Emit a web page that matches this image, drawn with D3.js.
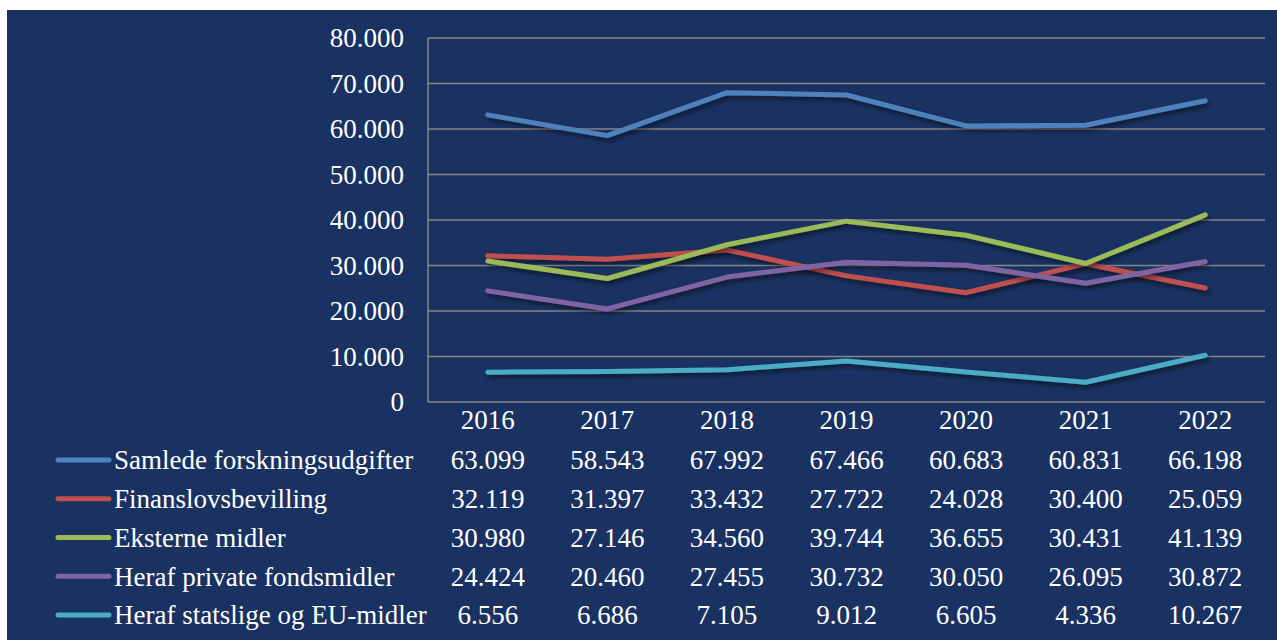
<!DOCTYPE html>
<html>
<head>
<meta charset="utf-8">
<script src="https://cdn.jsdelivr.net/npm/d3@7"></script>
<style>
  body { margin: 0; background: #fff; }
  text { font-family: "Liberation Serif", "Times New Roman", serif; fill: #fff; }
</style>
</head>
<body>
<svg id="chart" width="1277" height="642"></svg>
<script>
// data (thousands, Danish number format)
var years = ["2016", "2017", "2018", "2019", "2020", "2021", "2022"];
var seriesNames = ["Samlede forskningsudgifter", "Finanslovsbevilling", "Eksterne midler",
                   "Heraf private fondsmidler", "Heraf statslige og EU-midler"];
var samlede   = [63099, 58543, 67992, 67466, 60683, 60831, 66198];
var finanslov = [32119, 31397, 33432, 27722, 24028, 30400, 25059];
var eksterne  = [30980, 27146, 34560, 39744, 36655, 30431, 41139];
var private_  = [24424, 20460, 27455, 30732, 30050, 26095, 30872];
var statslige = [6556, 6686, 7105, 9012, 6605, 4336, 10267];
var yTicks = [0, 10000, 20000, 30000, 40000, 50000, 60000, 70000, 80000];
var colors = ["#4f81bd", "#c0504d", "#9bbb59", "#8064a2", "#4bacc6"];

var allSeries = [samlede, finanslov, eksterne, private_, statslige];

var dk = d3.formatLocale({decimal: ",", thousands: ".", grouping: [3], currency: ["", " kr."]});
var fmt = dk.format(",");
var fs = 27;

var svg = d3.select("#chart");

var defs = svg.append("defs");
var f = defs.append("filter").attr("id", "shadow")
    .attr("x", "-10%").attr("y", "-50%").attr("width", "120%").attr("height", "200%");
f.append("feDropShadow").attr("dx", 2).attr("dy", 3).attr("stdDeviation", 2.5)
    .attr("flood-color", "#000").attr("flood-opacity", 0.55);

// background
svg.append("rect").attr("x", 7).attr("y", 10).attr("width", 1270).attr("height", 630)
    .attr("fill", "#1a3262");

var margin = {left: 428, right: 1265, top: 38, bottom: 402};

var x = d3.scaleBand().domain(years).range([margin.left, margin.right]);
var y = d3.scaleLinear().domain([0, 80000]).range([margin.bottom, margin.top]);

// gridlines
svg.append("g").selectAll("line").data(yTicks).enter().append("line")
    .attr("x1", margin.left).attr("x2", margin.right)
    .attr("y1", function(d){ return y(d); }).attr("y2", function(d){ return y(d); })
    .attr("stroke", "#868686").attr("stroke-width", 1.5);
svg.append("line")
    .attr("x1", margin.left).attr("x2", margin.left)
    .attr("y1", margin.top).attr("y2", margin.bottom)
    .attr("stroke", "#868686").attr("stroke-width", 1.5);

// y axis labels
var yAxis = d3.axisLeft(y).tickValues(yTicks).tickFormat(fmt).tickSize(0).tickPadding(24);
var ya = svg.append("g").attr("transform", "translate(" + margin.left + ",0)").call(yAxis);
ya.select(".domain").remove();
ya.selectAll("text").attr("font-size", fs).attr("fill", "#fff")
    .attr("font-family", "Liberation Serif");

// x axis labels
var xAxis = d3.axisBottom(x).tickSize(0).tickPadding(8);
var xa = svg.append("g").attr("transform", "translate(0," + margin.bottom + ")").call(xAxis);
xa.select(".domain").remove();
xa.selectAll("text").attr("font-size", fs).attr("fill", "#fff")
    .attr("font-family", "Liberation Serif");

// lines
var line = d3.line()
    .x(function(d, i){ return x(years[i]) + x.bandwidth() / 2; })
    .y(function(d){ return y(d); });

svg.append("g").selectAll("path").data(allSeries).enter().append("path")
    .attr("d", line)
    .attr("fill", "none")
    .attr("stroke", function(d, i){ return colors[i]; })
    .attr("stroke-width", 5)
    .attr("stroke-linecap", "round")
    .attr("stroke-linejoin", "round")
    .attr("filter", "url(#shadow)");

// data table
var rowY = d3.scalePoint().domain(seriesNames).range([460, 615]);

var rows = svg.append("g").selectAll("g").data(seriesNames).enter().append("g")
    .attr("transform", function(d){ return "translate(0," + rowY(d) + ")"; });

rows.append("line")
    .attr("x1", 58).attr("x2", 109)
    .attr("stroke", function(d, i){ return colors[i]; })
    .attr("stroke-width", 5).attr("stroke-linecap", "round");

rows.append("text")
    .attr("x", 114).attr("dy", "0.35em")
    .attr("font-size", fs)
    .text(function(d){ return d; });

rows.each(function(name, i){
  d3.select(this).selectAll(".val").data(allSeries[i]).enter().append("text")
      .attr("class", "val")
      .attr("x", function(d, j){ return x(years[j]) + x.bandwidth() / 2; })
      .attr("dy", "0.35em")
      .attr("text-anchor", "middle")
      .attr("font-size", fs)
      .text(function(d){ return fmt(d); });
});
</script>
</body>
</html>
